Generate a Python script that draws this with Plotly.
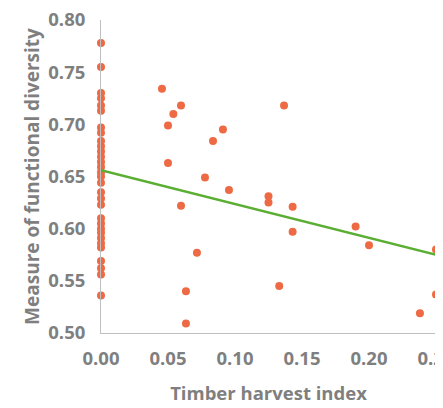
import plotly.graph_objects as go

# Points at harvest index 0
zero_y = [0.778, 0.755, 0.730, 0.725, 0.718, 0.713, 0.697, 0.692, 0.684, 0.679,
          0.674, 0.669, 0.664, 0.659, 0.654, 0.650, 0.644, 0.635, 0.629, 0.623,
          0.610, 0.605, 0.600, 0.596, 0.591, 0.586, 0.582, 0.569, 0.562, 0.556, 0.536]
zero_x = [0.0] * len(zero_y)

# Points with harvest > 0
harv_x = [0.0455, 0.0597, 0.054, 0.050, 0.050, 0.0597, 0.0716, 0.0634, 0.0634,
          0.1366, 0.091, 0.0836, 0.0776, 0.0955, 0.125, 0.125, 0.143, 0.143,
          0.190, 0.200, 0.250, 0.133, 0.250, 0.238]
harv_y = [0.734, 0.718, 0.710, 0.699, 0.663, 0.622, 0.577, 0.540, 0.509,
          0.718, 0.695, 0.684, 0.649, 0.637, 0.631, 0.625, 0.621, 0.597,
          0.602, 0.584, 0.580, 0.545, 0.537, 0.519]

# Trend line endpoints
trend_x = [0.0, 0.25]
trend_y = [0.656, 0.575]

x_ticks = [0.0, 0.05, 0.10, 0.15, 0.20, 0.25]
x_labels = ["0.00", "0.05", "0.10", "0.15", "0.20", "0.25"]
y_ticks = [0.50, 0.55, 0.60, 0.65, 0.70, 0.75, 0.80]
y_labels = ["0.50", "0.55", "0.60", "0.65", "0.70", "0.75", "0.80"]

pt_color = "#EE6A45"
gray = "#7F7F7F"
font = "Open Sans"

fig = go.Figure()
fig.add_trace(go.Scatter(x=zero_x + harv_x, y=zero_y + harv_y, mode="markers",
                         marker=dict(color=pt_color, size=8), cliponaxis=False,
                         showlegend=False))
fig.add_trace(go.Scatter(x=trend_x, y=trend_y, mode="lines",
                         line=dict(color="#5AAE32", width=2.5), showlegend=False))

fig.update_layout(
    width=443, height=408,
    margin=dict(l=93, r=15, t=12, b=83, autoexpand=False),
    paper_bgcolor="white", plot_bgcolor="white",
    font=dict(family=font, color=gray),
)
fig.update_xaxes(range=[0, 0.25], tickvals=x_ticks, ticktext=x_labels,
                 showgrid=False, zeroline=False, showline=True, linecolor="#BFBFBF",
                 linewidth=1, ticks="", automargin=False, ticklabeloverflow="allow",
                 tickfont=dict(size=18.5, family=font, color=gray, weight="bold"),
                 ticklabelstandoff=9,
                 title=dict(text="<b>Timber harvest index</b>", font=dict(size=18.5, color=gray), standoff=17))
fig.update_yaxes(range=[0.50, 0.80], tickvals=y_ticks, ticktext=y_labels,
                 showgrid=False, zeroline=False, showline=True, linecolor="#BFBFBF",
                 linewidth=1, ticks="", automargin=False, ticklabeloverflow="allow",
                 tickfont=dict(size=18.5, family=font, color=gray, weight="bold"),
                 ticklabelstandoff=11,
                 title=dict(text="<b>Measure of functional diversity</b>", font=dict(size=19, color=gray), standoff=3))

fig.write_html("out.html")
